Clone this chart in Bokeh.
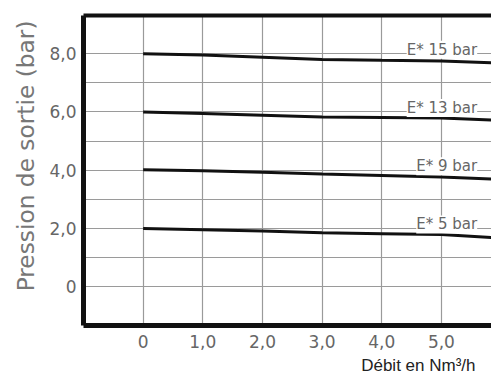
from bokeh.plotting import figure
from bokeh.models import (LinearAxis, FixedTicker, Range1d, Title, ColumnDataSource,
                          LabelSet)
from bokeh.core.properties import value
from bokeh.embed import file_html
from bokeh.resources import INLINE

# ---- data ----
debit = [0, 1, 2, 3, 4, 5, 6]
p_e15 = [8.00, 7.95, 7.88, 7.80, 7.77, 7.75, 7.68]
p_e13 = [6.00, 5.95, 5.89, 5.83, 5.81, 5.79, 5.71]
p_e9 = [4.02, 3.98, 3.93, 3.87, 3.82, 3.77, 3.68]
p_e5 = [2.00, 1.96, 1.91, 1.85, 1.82, 1.79, 1.67]
series_labels = ["E* 15 bar", "E* 13 bar", "E* 9 bar", "E* 5 bar"]
label_levels = [8, 6, 4, 2]
x_ticks = [0, 1, 2, 3, 4, 5]
x_tick_labels = ["0", "1,0", "2,0", "3,0", "4,0", "5,0"]
y_ticks = [0, 2, 4, 6, 8]
y_tick_labels = ["0", "2,0", "4,0", "6,0", "8,0"]

FONT = "DejaVu Sans"

p = figure(width=491, height=378, output_backend="svg", toolbar_location=None,
           x_range=Range1d(-1.0, 5.84), y_range=Range1d(-1.33, 9.31),
           min_border_left=83, min_border_right=0, min_border_top=15,
           min_border_bottom=0)
p.outline_line_color = None
p.background_fill_color = "white"
p.border_fill_color = "white"

# grid
p.xgrid.ticker = FixedTicker(ticks=x_ticks)
p.ygrid.ticker = FixedTicker(ticks=list(range(min(y_ticks), max(y_ticks) + 1)))
for g in (p.xgrid, p.ygrid):
    g.grid_line_color = "#9a9a9a"
    g.grid_line_width = 1.2

# x axis
xa = p.xaxis[0]
xa.ticker = FixedTicker(ticks=x_ticks)
xa.major_label_overrides = {t: l for t, l in zip(x_ticks, x_tick_labels)}
xa.axis_line_width = 5
xa.axis_line_color = "#111111"
xa.major_tick_line_color = None
xa.minor_tick_line_color = None
xa.major_label_standoff = 3
xa.major_label_text_font = FONT
xa.major_label_text_font_size = "17px"
xa.major_label_text_color = "#666666"

# y axis
ya = p.yaxis[0]
ya.ticker = FixedTicker(ticks=y_ticks)
ya.major_label_overrides = {t: l for t, l in zip(y_ticks, y_tick_labels)}
ya.axis_line_width = 5
ya.axis_line_color = "#111111"
ya.major_tick_line_color = None
ya.minor_tick_line_color = None
ya.major_label_standoff = 1
ya.major_label_text_font = FONT
ya.major_label_text_font_size = "17px"
ya.major_label_text_color = "#666666"

# top border as an empty axis
top = LinearAxis(ticker=FixedTicker(ticks=[]), axis_line_width=4,
                 axis_line_color="#111111", major_tick_out=0, minor_tick_out=0,
                 major_label_text_font_size="0px")
p.add_layout(top, "above")

# titles
p.add_layout(Title(text="Pression de sortie (bar)", align="right", offset=5,
                   text_font=FONT, text_font_size="23.3px", text_font_style="normal",
                   text_color="#777777", standoff=16), "left")
p.add_layout(Title(text="Débit en Nm³/h", align="right", offset=16,
                   text_font="Liberation Sans", text_font_size="17px",
                   text_font_style="normal", text_color="#222222", standoff=7), "below")

# curves
for ys in (p_e15, p_e13, p_e9, p_e5):
    p.line(debit, ys, line_color="#111111", line_width=3)

# curve labels
lab_src = ColumnDataSource(dict(x=[5.6] * len(series_labels), y=label_levels,
                                text=series_labels))
p.add_layout(LabelSet(x="x", y="y", text="text", source=lab_src, text_align="right",
                      text_baseline="alphabetic", text_font=value(FONT),
                      text_font_size=value("15px"), text_color="#666666",
                      background_fill_color="white", y_offset=-1))

open("out.html", "w").write(file_html(p, INLINE))
